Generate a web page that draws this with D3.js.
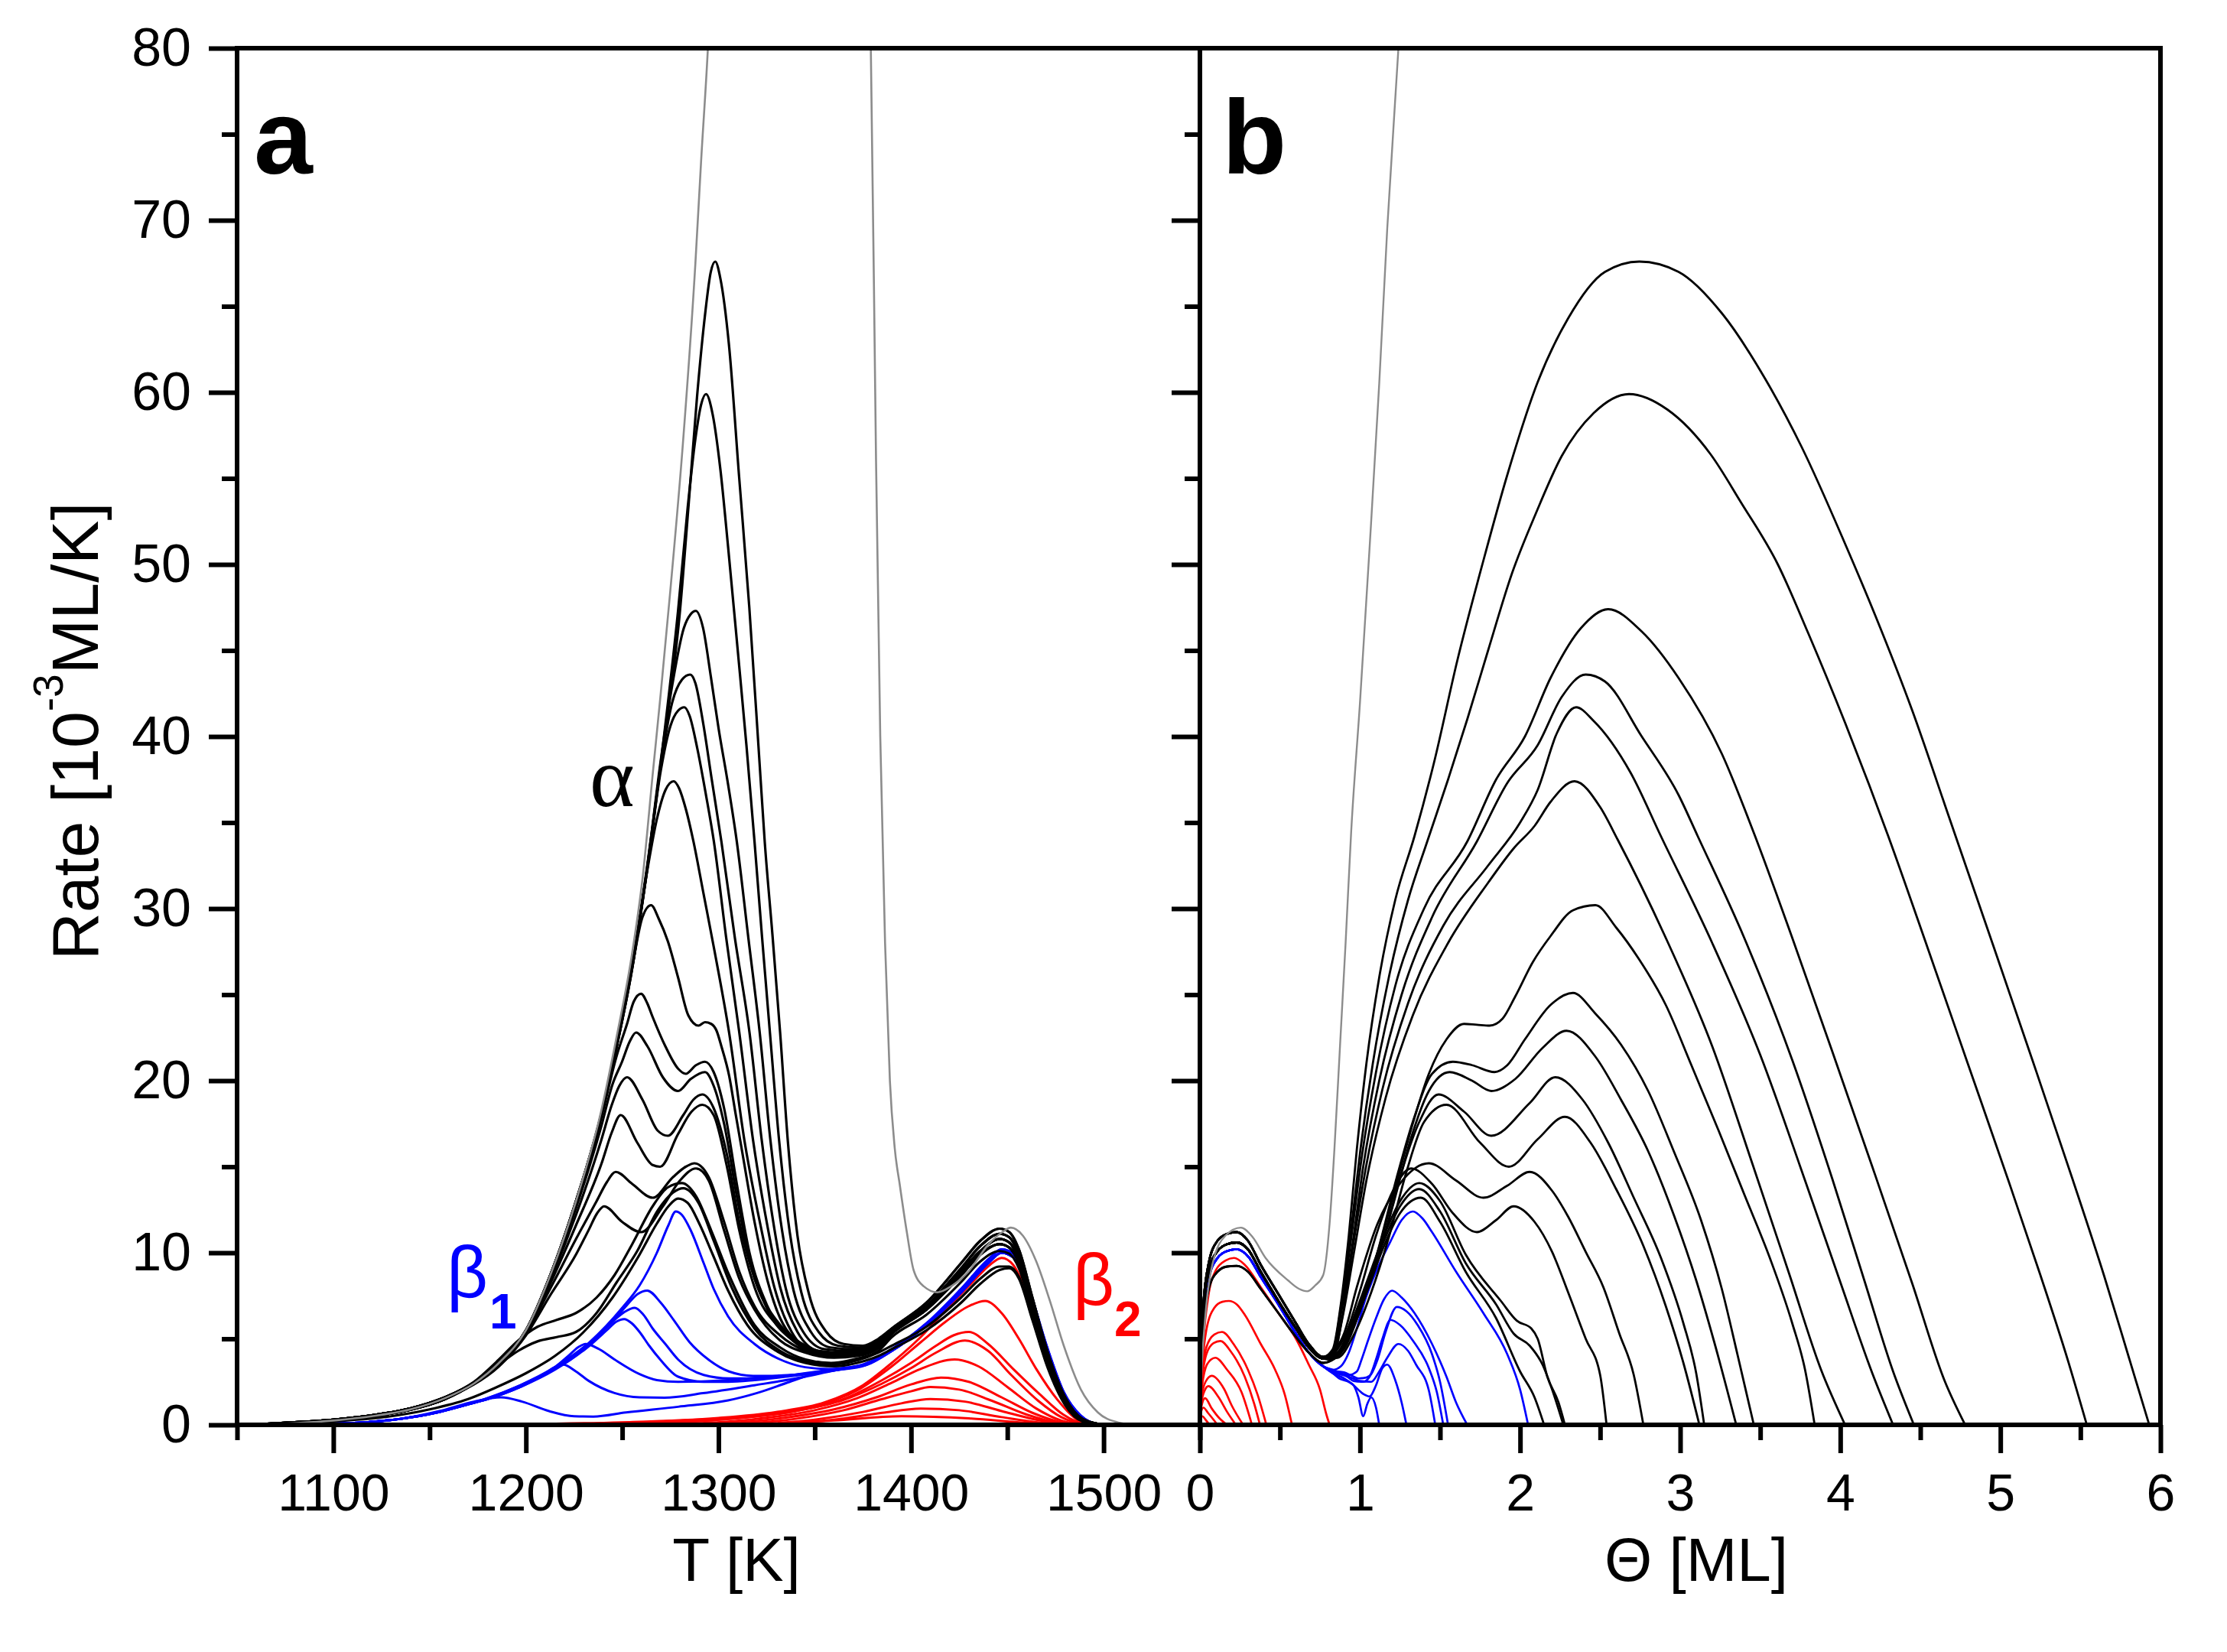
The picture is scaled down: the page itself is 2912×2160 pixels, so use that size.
<!DOCTYPE html>
<html><head><meta charset="utf-8">
<script src="https://cdn.jsdelivr.net/npm/d3@7"></script>
<style>body{margin:0;background:#fff}</style>
</head><body>
<svg id="chart" width="2912" height="2160"></svg>
<script>
// ---------------- axis / tick data ----------------
const yMajor = [0,10,20,30,40,50,60,70,80];
const yMinor = [5,15,25,35,45,55,65,75];
const tMajor = [1100,1200,1300,1400,1500];
const tMinor = [1050,1150,1250,1350,1450,1550];
const thMajor = [0,1,2,3,4,5,6];
const thMinor = [0.5,1.5,2.5,3.5,4.5,5.5];

// ---------------- panel a : rate vs T (flat [T,R,...]) ----------------
const leadA = [1055,0, 1080,0.15, 1100,0.3, 1120,0.55, 1140,0.95, 1158,1.6];
const leadB = [1058,0, 1080,0.12, 1100,0.26, 1120,0.5, 1140,0.88, 1158,1.5];
const tail1 = [1390,5.6, 1408,7.1, 1426,9.4, 1436,10.7, 1446,11.4, 1451,11.2, 1456,10.2, 1463,7.4, 1471,4.2, 1480,1.6, 1489,0.35, 1500,0];
const tail2 = [1390,5.5, 1408,6.9, 1426,9.1, 1436,10.4, 1446,11.1, 1451,10.9, 1456,9.9, 1463,7.1, 1471,4.0, 1480,1.5, 1489,0.3, 1500,0];
const tail3 = [1390,5.4, 1408,6.8, 1426,8.9, 1436,10.1, 1446,10.8, 1451,10.6, 1456,9.6, 1463,6.9, 1471,3.8, 1480,1.4, 1489,0.3, 1500,0];
const tail4 = [1390,5.3, 1408,6.7, 1426,8.7, 1436,9.9, 1446,10.5, 1451,10.3, 1456,9.4, 1463,6.7, 1471,3.7, 1480,1.35, 1489,0.28, 1500,0];
const tail5 = [1390,5.1, 1408,6.4, 1426,8.3, 1436,9.5, 1446,10.1, 1451,9.95, 1456,9.1, 1463,6.5, 1471,3.6, 1480,1.3, 1489,0.25, 1500,0];
const tail6 = [1390,4.6, 1408,5.7, 1426,7.4, 1436,8.5, 1446,9.2, 1451,9.2, 1456,8.6, 1463,6.2, 1471,3.4, 1480,1.2, 1489,0.22, 1500,0];

const aBlack = [
  leadA.concat([1173,2.45, 1186,3.6, 1200,5.5, 1213,8.8, 1226,13.0, 1239,18.0, 1247,22.0, 1255,26.6, 1263,32.5, 1272,40, 1280,47.3, 1284.5,53.5, 1288.9,59.8, 1293,64.5, 1296,67.0, 1298.3,67.6, 1301,66.6, 1305.4,62.8, 1310.7,55.1, 1316,47.5, 1321.3,38.5, 1324,33.9, 1328,28.5, 1332,22.8, 1336,16.5, 1341,11.0, 1347,7.6, 1356,5.4, 1365,4.7, 1375,4.6, 1383,5.0], tail1),
  leadB.concat([1173,2.4, 1186,3.55, 1200,5.45, 1213,8.7, 1226,12.9, 1239,17.9, 1247,21.9, 1255,26.5, 1263,32.4, 1272,40.3, 1279,47.3, 1284,53.3, 1288,57.3, 1291,59.3, 1293.5,59.9, 1297,58.7, 1301,55.5, 1305,51, 1310,45, 1314.5,39.5, 1318.7,33.9, 1322.5,28.5, 1326.7,22.8, 1331.5,16.5, 1337,11.2, 1343,7.7, 1352,5.4, 1362,4.6, 1373,4.5, 1383,4.95], tail1),
  leadA.concat([1173,2.45, 1186,3.6, 1200,5.5, 1213,8.8, 1226,13.0, 1239,18.0, 1247,22.0, 1255,26.5, 1263,32.4, 1270,38.6, 1276,43.0, 1282,46.3, 1285.5,47.1, 1288.2,47.3, 1292,46.3, 1296,43.5, 1300,40.5, 1305,37.2, 1309.5,33.9, 1315.5,28.3, 1321.4,22.8, 1327,16.5, 1333,11.3, 1339,7.8, 1348,5.4, 1358,4.5, 1370,4.4, 1383,4.9], tail2),
  leadB.concat([1173,2.4, 1186,3.55, 1200,5.45, 1213,8.7, 1226,12.9, 1239,17.9, 1247,21.9, 1255,26.4, 1263,32.3, 1270,38.3, 1276,42.0, 1281,43.3, 1285.3,43.6, 1288,43.1, 1292,40.8, 1296.5,37.5, 1301.5,33.9, 1308.5,28.3, 1316.1,22.8, 1322.5,16.5, 1329,11.4, 1335,7.9, 1344,5.4, 1355,4.4, 1368,4.3, 1383,4.85], tail2),
  leadA.concat([1173,2.45, 1186,3.6, 1200,5.5, 1213,8.8, 1226,13.0, 1239,18.0, 1247,22.0, 1255,26.5, 1263,32.3, 1270,38.0, 1275,40.6, 1279,41.5, 1282.3,41.7, 1285,41.2, 1289,39.3, 1293.5,36.6, 1297.6,33.9, 1304,28.3, 1310.8,22.8, 1318,16.5, 1325.5,11.5, 1332,8.0, 1341,5.4, 1352,4.3, 1366,4.2, 1383,4.8], tail2),
  leadB.concat([1173,2.4, 1186,3.55, 1200,5.45, 1213,8.7, 1226,12.9, 1239,17.9, 1247,21.9, 1255,26.4, 1263,32.2, 1268,35.2, 1272.5,36.9, 1276.7,37.4, 1279.5,37.0, 1283,35.8, 1287,33.9, 1292,31.0, 1298,27.5, 1305.5,22.8, 1313.5,16.5, 1322,11.5, 1329,8.0, 1338,5.4, 1350,4.2, 1364,4.1, 1383,4.75], tail3),
  leadA.concat([1173,2.45, 1186,3.6, 1200,5.5, 1213,8.8, 1226,13.0, 1239,18.0, 1247,22.0, 1255,26.5, 1260.5,29.5, 1265,30.2, 1269,29.4, 1273.7,28.1, 1279,26.0, 1284.3,23.8, 1289.6,23.2, 1293,23.4, 1296.2,23.3, 1299,22.9, 1301.5,22.0, 1305.5,20.3, 1309,18.0, 1312.1,16.0, 1318.7,11.8, 1325.4,8.4, 1332,6.2, 1345,4.6, 1358,4.2, 1370,4.3, 1383,4.75], tail3),
  leadB.concat([1173,2.4, 1186,3.55, 1200,5.45, 1213,8.8, 1226,12.9, 1239,17.8, 1247,21.4, 1252.5,23.3, 1256,24.6, 1259.8,25.05, 1263,24.5, 1265.8,23.7, 1272.4,22.0, 1279,20.7, 1283,20.4, 1288.3,20.9, 1293,21.1, 1297.5,20.5, 1302.9,18.4, 1309.5,14.0, 1316.1,10.0, 1325.4,6.9, 1338.6,4.9, 1351.8,4.2, 1366,4.15, 1383,4.7], tail3),
  leadA.concat([1173,2.45, 1186,3.55, 1200,5.4, 1213,8.7, 1226,12.6, 1239,17.3, 1245,19.8, 1249.9,21.1, 1254,22.3, 1257.2,22.8, 1263.1,22.0, 1271.1,20.2, 1279,19.4, 1285.6,20.1, 1293,20.5, 1297.5,19.7, 1302.9,17.5, 1309.5,13.3, 1316.1,9.6, 1325.4,6.7, 1338.6,4.9, 1352,4.2, 1366,4.1, 1383,4.65], tail3),
  leadB.concat([1173,2.4, 1186,3.5, 1200,5.35, 1213,8.5, 1226,12.2, 1239,16.5, 1244.6,18.6, 1248.5,19.7, 1252.5,20.2, 1260.5,18.9, 1268.4,17.1, 1273.7,16.8, 1281.7,18.0, 1287,18.9, 1291.6,19.2, 1297.5,18.4, 1304.2,15.8, 1310.8,11.8, 1318.7,8.5, 1332,5.8, 1345,4.6, 1360,4.1, 1372,4.2, 1383,4.6], tail4),
  leadA.concat([1173,2.4, 1186,3.5, 1200,5.3, 1213,8.3, 1226,11.6, 1239.3,15.2, 1244.6,17.0, 1249.2,18.0, 1257.8,16.4, 1265.8,15.1, 1269.7,15.0, 1279,16.9, 1286,18.2, 1291.6,18.6, 1297.5,18.0, 1304.2,15.1, 1310.8,11.3, 1318.7,8.0, 1332,5.6, 1345,4.5, 1360,4.0, 1372,4.1, 1383,4.55], tail4),
  leadB.concat([1173,2.4, 1186,3.5, 1200,5.3, 1213,8.0, 1226,10.8, 1236.7,13.0, 1242,14.1, 1246.6,14.7, 1255.2,14.0, 1265.8,13.2, 1276.4,14.4, 1283,15.0, 1287.6,15.2, 1294.9,14.4, 1302.9,11.8, 1310.8,8.9, 1318.7,6.9, 1332,5.2, 1345,4.3, 1360,3.95, 1372,4.05, 1383,4.5], tail4),
  leadA.concat([1173,2.35, 1186,3.4, 1200,5.2, 1213,7.6, 1226,9.9, 1232.7,11.35, 1237,12.3, 1240.6,12.7, 1249.9,11.8, 1259.8,11.2, 1271.1,12.7, 1280,14.2, 1288.3,14.9, 1294.9,14.2, 1302.9,11.3, 1310.8,8.5, 1318.7,6.7, 1332,4.9, 1345,4.2, 1360,3.9, 1372,4.0, 1383,4.45], tail4),
  leadA.concat([1173,2.5, 1186,3.8, 1196,4.9, 1206,5.7, 1216,6.1, 1226,6.5, 1236.7,7.4, 1246,8.7, 1255.2,10.5, 1265.8,12.7, 1273.7,13.8, 1281,14.05, 1288.3,13.3, 1296.2,11.3, 1305.5,8.7, 1318.7,5.8, 1332,4.5, 1345.2,3.8, 1358.5,3.6, 1372,3.85, 1383,4.3], tail5),
  leadB.concat([1173,2.4, 1186,3.5, 1196,4.3, 1206,4.85, 1216,5.1, 1226,5.4, 1236.7,6.5, 1247.2,8.3, 1257.8,10.1, 1268.4,12.45, 1276.4,13.5, 1281.7,13.75, 1289.6,12.9, 1297.5,10.7, 1306.8,8.0, 1318.7,5.6, 1332,4.3, 1345,3.7, 1358,3.5, 1372,3.75, 1383,4.2], tail6),
  [1060,0, 1100,0.2, 1130,0.5, 1150,0.9, 1170,1.5, 1185,2.2, 1200,3.0, 1215,4.0, 1230,5.4, 1245,7.4, 1258,9.7, 1268,11.7, 1274,12.7, 1279,13.15, 1284,12.9, 1290,11.7, 1297,9.9, 1305,7.8, 1315,5.8, 1330,4.3, 1345,3.6, 1360,3.4, 1372,3.6, 1383,4.0, 1390,4.4, 1408,5.5, 1426,7.1, 1436,8.2, 1446,9.0, 1451,9.1, 1456,8.5, 1463,6.1, 1471,3.3, 1480,1.15, 1489,0.2, 1500,0]
];

const blueLead = [1062,0, 1090,0.05, 1117,0.15, 1135,0.35, 1153,0.7, 1170,1.2];
const blueTail1 = [1390,4.4, 1408,5.9, 1426,7.9, 1440,9.6, 1447,10.2, 1454.5,9.8, 1461.6,7.8, 1470.4,4.6, 1479.3,1.9, 1488,0.55, 1497,0.05, 1505,0];
const blueTail2 = [1390,4.3, 1408,5.8, 1426,7.7, 1440,9.4, 1447,10.0, 1454.5,9.6, 1461.6,7.6, 1470.4,4.5, 1479.3,1.85, 1488,0.5, 1497,0.05, 1505,0];
const aBlue = [
  blueLead.concat([1180,1.55, 1197,2.3, 1215,3.35, 1233,4.8, 1250,6.8, 1259,8.1, 1268,10.0, 1274,11.6, 1277.8,12.4, 1281,12.2, 1285.6,11.3, 1292.3,9.4, 1297.5,7.9, 1305,6.3, 1318.7,4.7, 1332,3.8, 1345,3.35, 1357,3.25, 1373,3.45], blueTail1),
  blueLead.concat([1180,1.55, 1197,2.3, 1215,3.3, 1233,4.75, 1245,6.0, 1252,6.9, 1258,7.6, 1263,7.8, 1270,7.1, 1277,6.05, 1285,4.8, 1294.7,3.8, 1305.5,3.1, 1318,2.85, 1332,2.85, 1345,3.0, 1358,3.2, 1373,3.4], blueTail1),
  blueLead.concat([1180,1.5, 1197,2.25, 1215,3.25, 1233,4.7, 1245,6.0, 1251,6.55, 1256.5,6.8, 1261,6.4, 1265.8,5.6, 1272.4,4.7, 1279,3.8, 1292.3,2.9, 1305.5,2.7, 1320,2.7, 1335,2.85, 1350,3.05, 1365,3.3, 1376,3.5], blueTail2),
  blueLead.concat([1180,1.5, 1197,2.2, 1215,3.2, 1233,4.6, 1242,5.5, 1247,6.0, 1251,6.15, 1255,5.9, 1259,5.4, 1264,4.6, 1269.7,3.8, 1279,2.8, 1292.3,2.5, 1305,2.5, 1318.7,2.6, 1335,2.8, 1350,3.0, 1365,3.25, 1376,3.5], blueTail2),
  blueLead.concat([1180,1.5, 1197,2.2, 1212,3.1, 1222,4.0, 1227,4.5, 1231,4.7, 1238,4.4, 1246,3.8, 1259,2.95, 1268,2.6, 1279,2.5, 1305,2.6, 1330,2.85, 1350,3.0, 1365,3.25, 1376,3.5], blueTail2),
  blueLead.concat([1180,1.5, 1197,2.2, 1210,3.0, 1215,3.35, 1219.4,3.5, 1226,3.1, 1232.7,2.55, 1246,1.85, 1259,1.6, 1272,1.58, 1292,1.84, 1318.7,2.3, 1345,2.8, 1360,3.15, 1376,3.45], blueTail2),
  [1062,0, 1090,0.05, 1117,0.15, 1135,0.35, 1155,0.8, 1173,1.35, 1187,1.6, 1198,1.35, 1212,0.8, 1225,0.5, 1235,0.48, 1252,0.72, 1279,1.05, 1305,1.42, 1320,1.85, 1337,2.5, 1355,3.15, 1376,3.45].concat(blueTail2)
];

const aRed = [
  [1160,0, 1250,0.15, 1300,0.4, 1330,0.75, 1355,1.3, 1375,2.3, 1390,3.6, 1405,5.1, 1420,6.9, 1432,8.3, 1441,9.3, 1447,9.7, 1453,9.3, 1460,7.6, 1467,5.0, 1475,2.4, 1483,0.8, 1490,0.15, 1496,0],
  [1200,0, 1280,0.25, 1320,0.55, 1350,1.1, 1372,2.0, 1390,3.4, 1405,4.8, 1418,6.0, 1430,6.9, 1438.5,7.2, 1447,6.5, 1456,5.0, 1465,3.25, 1476,1.46, 1485,0.4, 1492,0],
  [1250,0, 1300,0.3, 1340,0.8, 1365,1.5, 1385,2.6, 1400,3.6, 1413,4.6, 1422,5.2, 1430,5.4, 1440,4.7, 1453,3.25, 1467,1.76, 1479,0.6, 1490,0.05, 1494,0],
  [1250,0, 1300,0.3, 1340,0.8, 1365,1.45, 1385,2.4, 1400,3.3, 1413,4.2, 1428,4.9, 1440,4.3, 1452,2.9, 1466,1.4, 1478,0.45, 1490,0.03, 1494,0],
  [1270,0, 1320,0.35, 1350,0.85, 1372,1.55, 1390,2.45, 1405,3.25, 1422.6,3.8, 1435,3.4, 1450,2.2, 1465,0.95, 1478,0.25, 1490,0.02, 1494,0],
  [1290,0, 1330,0.35, 1360,0.9, 1382,1.6, 1400,2.35, 1415.5,2.75, 1430,2.5, 1447,1.6, 1463,0.7, 1478,0.15, 1492,0],
  [1300,0, 1340,0.35, 1365,0.85, 1385,1.5, 1400,1.95, 1410,2.2, 1425,2.05, 1442,1.4, 1460,0.6, 1476,0.12, 1490,0],
  [1310,0, 1350,0.3, 1375,0.75, 1395,1.25, 1410,1.5, 1428,1.35, 1447,0.8, 1465,0.3, 1480,0.05, 1490,0],
  [1320,0, 1360,0.3, 1385,0.7, 1405,0.95, 1425,0.85, 1447,0.45, 1468,0.12, 1486,0],
  [1320,0, 1360,0.25, 1395,0.5, 1430,0.38, 1460,0.12, 1486,0]
];

const aGray = [1058,0, 1080,0.1, 1100,0.25, 1120,0.5, 1140,0.9, 1158,1.55, 1173,2.4, 1186,3.6, 1200,5.5, 1213,8.8, 1226,13.0, 1239,18.2, 1247,22.5, 1255,27.3, 1260.5,31.7, 1266,38, 1270,42.5, 1275,48.5, 1281.5,57, 1288,67.5, 1291,73.5, 1294.5,80, 1297,86, 1377,86, 1379.1,80, 1381.8,56.1, 1384,40, 1386.5,28, 1389,20, 1391.5,16.1, 1394.2,13.9, 1397.8,11.2, 1401.3,9.0, 1406.6,8.05, 1413.7,7.7, 1420.8,8.05, 1429.7,8.9, 1440.3,10.5, 1447.4,11.2, 1451.8,11.46, 1458,11.0, 1465,9.5, 1472,7.24, 1479.3,4.6, 1488.2,2.05, 1497,0.72, 1507.7,0.13, 1515,0];

// ---------------- panel b : rate vs coverage (flat [Theta,R,...]) ----------------
const lowA = [0,0, 0.014,5.9, 0.055,9.4, 0.11,10.7, 0.17,11.1, 0.23,11.2, 0.3,10.7, 0.38,9.3, 0.49,7.6, 0.6,5.9, 0.68,4.7, 0.77,3.95];
const lowB = [0,0, 0.014,5.6, 0.055,8.9, 0.11,10.1, 0.17,10.5, 0.23,10.6, 0.3,10.2, 0.38,8.9, 0.49,7.2, 0.6,5.6, 0.68,4.5, 0.77,3.85];
const lowC = [0,0, 0.014,5.0, 0.055,7.9, 0.11,8.9, 0.17,9.2, 0.23,9.24, 0.3,8.9, 0.38,7.9, 0.49,6.5, 0.6,5.1, 0.68,4.2, 0.77,3.6];
const bBlack = [
  lowA.concat([0.83,4.4, 0.88,7.0, 0.93,11.0, 0.98,16.0, 1.04,21.0, 1.12,26.0, 1.22,30.5, 1.34,34.2, 1.46,38.4, 1.61,44.5, 1.77,50.2, 1.92,55.2, 2.11,60.6, 2.3,64.3, 2.53,67.0, 2.745,67.6, 2.99,67.0, 3.26,64.6, 3.53,60.8, 3.76,56.8, 4.03,51.2, 4.22,47.0, 4.45,41.5, 4.68,35.3, 4.95,28.0, 5.2,21.2, 5.45,14.3, 5.65,8.6, 5.8,4.0, 5.93,0]),
  lowA.concat([0.83,4.3, 0.88,6.8, 0.94,11.0, 1.0,15.8, 1.08,21.0, 1.18,26.0, 1.3,30.5, 1.42,33.9, 1.55,37.5, 1.67,41.0, 1.8,45.0, 1.95,49.5, 2.1,53.0, 2.26,56.3, 2.46,58.8, 2.68,59.9, 2.92,59.0, 3.19,56.4, 3.38,53.6, 3.61,50.0, 3.8,46.0, 4.03,40.8, 4.18,37.2, 4.3,34.2, 4.55,27.6, 4.8,20.9, 5.05,14.2, 5.25,8.7, 5.42,3.8, 5.54,0]),
  lowA.concat([0.83,4.2, 0.88,6.6, 0.94,10.5, 1.01,15.5, 1.1,20.5, 1.22,25.5, 1.4,30.0, 1.67,33.9, 1.85,37.5, 2.03,40.0, 2.19,43.4, 2.38,46.3, 2.55,47.4, 2.76,46.1, 2.99,43.4, 3.26,39.0, 3.46,34.4, 3.7,28.3, 3.95,21.7, 4.2,15.0, 4.45,8.2, 4.65,2.6, 4.78,0]),
  lowA.concat([0.83,4.1, 0.88,6.4, 0.95,10.3, 1.02,15.0, 1.12,20.0, 1.26,25.0, 1.45,29.5, 1.73,33.9, 1.92,37.3, 2.11,39.5, 2.26,42.3, 2.41,43.6, 2.53,43.2, 2.76,40.0, 2.99,36.6, 3.11,34.2, 3.4,28.3, 3.7,21.2, 3.95,14.3, 4.15,8.4, 4.33,3.1, 4.46,0]),
  lowA.concat([0.83,4.0, 0.89,6.3, 0.95,10.0, 1.03,14.6, 1.14,19.5, 1.3,24.5, 1.52,29.0, 1.8,32.5, 2.0,35.0, 2.11,36.9, 2.23,40.2, 2.35,41.7, 2.46,40.9, 2.69,37.9, 2.88,34.2, 3.2,28.0, 3.5,21.5, 3.78,14.2, 4.0,8.3, 4.2,3.0, 4.33,0]),
  lowB.concat([0.83,3.95, 0.89,6.2, 0.96,9.9, 1.04,14.2, 1.16,19.0, 1.33,23.8, 1.55,28.0, 1.8,31.5, 1.96,33.5, 2.09,34.8, 2.19,36.2, 2.34,37.4, 2.5,35.9, 2.61,34.0, 2.9,28.5, 3.2,22.0, 3.45,15.2, 3.68,8.8, 3.88,3.2, 4.03,0]),
  lowB.concat([0.82,3.9, 0.88,4.4, 0.99,6.4, 1.1,9.7, 1.21,13.4, 1.32,17.2, 1.43,20.4, 1.54,22.4, 1.65,23.3, 1.73,23.25, 1.81,23.2, 1.89,23.6, 1.97,24.9, 2.08,26.9, 2.19,28.4, 2.33,29.9, 2.47,30.2, 2.6,28.9, 2.74,27.1, 2.91,24.4, 3.07,20.9, 3.24,17.1, 3.4,13.4, 3.56,9.7, 3.7,5.9, 3.78,3.2, 3.84,0]),
  lowB.concat([0.82,3.8, 0.9,4.4, 1.01,6.9, 1.12,10.4, 1.23,14.4, 1.34,17.9, 1.45,20.4, 1.58,21.1, 1.7,20.9, 1.84,20.5, 1.92,20.9, 2.03,22.4, 2.19,24.4, 2.33,25.1, 2.47,23.9, 2.63,22.1, 2.8,19.4, 2.96,15.9, 3.13,11.9, 3.26,7.9, 3.36,4.0, 3.46,0]),
  lowB.concat([0.82,3.8, 0.88,4.2, 0.99,6.4, 1.1,9.4, 1.21,12.9, 1.32,16.7, 1.43,19.4, 1.56,20.5, 1.7,20.0, 1.82,19.4, 1.97,20.1, 2.14,21.9, 2.29,22.9, 2.47,21.4, 2.63,18.9, 2.8,15.9, 2.96,12.2, 3.1,8.4, 3.21,4.9, 3.35,0]),
  lowB.concat([0.85,4.1, 0.93,5.2, 1.04,7.7, 1.15,10.9, 1.26,14.7, 1.37,17.6, 1.49,19.2, 1.65,18.2, 1.82,16.8, 2.06,18.7, 2.22,20.2, 2.39,18.9, 2.55,16.4, 2.71,13.2, 2.88,9.7, 3.02,5.9, 3.1,3.0, 3.15,0]),
  lowB.concat([0.86,3.9, 0.96,5.2, 1.07,7.7, 1.18,10.9, 1.29,14.7, 1.4,17.6, 1.54,18.6, 1.75,16.4, 1.93,15.0, 2.11,16.6, 2.28,17.9, 2.44,16.4, 2.6,13.7, 2.77,10.4, 2.91,6.9, 3.02,3.6, 3.12,0]),
  lowB.concat([0.81,4.1, 0.9,5.3, 0.98,8.0, 1.11,11.7, 1.24,13.9, 1.43,15.2, 1.6,14.2, 1.77,13.2, 1.92,13.9, 2.06,14.7, 2.2,13.6, 2.3,12.1, 2.41,10.05, 2.52,8.0, 2.62,5.3, 2.71,2.9, 2.77,0]),
  lowB.concat([0.82,4.0, 0.92,5.5, 1.0,7.8, 1.1,11.0, 1.2,13.5, 1.32,14.9, 1.45,14.0, 1.58,12.3, 1.73,11.2, 1.85,11.9, 1.96,12.7, 2.09,11.8, 2.2,10.05, 2.3,7.7, 2.41,5.0, 2.5,2.9, 2.54,0]),
  lowB.concat([0.86,4.2, 0.95,6.0, 1.05,8.5, 1.15,11.0, 1.25,13.0, 1.37,14.05, 1.5,13.0, 1.66,9.9, 1.88,7.2, 1.98,6.05, 2.07,5.6, 2.11,5.0, 2.17,2.8, 2.24,1.3, 2.28,0]),
  lowC.concat([0.86,4.1, 0.95,5.8, 1.05,8.2, 1.15,10.7, 1.25,12.7, 1.37,13.7, 1.5,12.4, 1.66,9.4, 1.85,7.0, 1.96,5.3, 2.06,4.6, 2.14,3.5, 2.2,2.05, 2.27,0]),
  lowC.concat([0.86,4.0, 0.95,5.6, 1.05,7.9, 1.15,10.4, 1.25,12.3, 1.38,13.2, 1.5,11.8, 1.66,8.9, 1.85,6.2, 2.0,3.1, 2.09,1.6, 2.15,0])
];

const blueLow = [0,0, 0.014,5.2, 0.055,8.5, 0.11,9.7, 0.17,10.1, 0.23,10.2, 0.3,9.8, 0.38,8.6, 0.49,7.0, 0.6,5.3, 0.68,4.2, 0.77,3.4];
const bBlue = [
  blueLow.concat([0.83,3.2, 0.88,3.4, 0.93,4.2, 0.98,5.6, 1.03,7.2, 1.1,8.9, 1.19,10.65, 1.26,11.9, 1.33,12.4, 1.39,12.0, 1.45,11.2, 1.6,8.9, 1.77,6.5, 1.92,4.1, 2.0,2.05, 2.05,0]),
  blueLow.concat([0.83,3.2, 0.88,3.0, 0.93,2.9, 0.98,3.1, 1.01,3.8, 1.05,4.9, 1.1,6.2, 1.15,7.3, 1.2,7.8, 1.26,7.4, 1.34,6.5, 1.45,4.7, 1.54,2.8, 1.6,1.3, 1.67,0]),
  blueLow.concat([0.83,3.15, 0.9,3.05, 0.95,2.85, 0.99,2.7, 1.04,2.75, 1.07,2.95, 1.11,3.8, 1.16,5.4, 1.23,6.85, 1.29,6.6, 1.36,5.8, 1.45,4.1, 1.5,2.5, 1.55,0]),
  blueLow.concat([0.83,3.1, 0.87,3.0, 0.92,2.8, 0.96,2.55, 1.02,2.5, 1.06,2.8, 1.1,3.8, 1.14,5.0, 1.19,6.1, 1.25,5.8, 1.33,4.9, 1.43,3.3, 1.48,1.9, 1.52,0]),
  blueLow.concat([0.83,3.05, 0.87,2.95, 0.93,2.8, 1.0,2.55, 1.07,2.5, 1.12,3.1, 1.17,3.9, 1.24,4.7, 1.3,4.3, 1.35,3.5, 1.43,2.0, 1.47,0]),
  blueLow.concat([0.83,3.0, 0.9,2.7, 0.96,2.3, 1.02,1.8, 1.06,1.65, 1.1,2.3, 1.14,3.3, 1.17,3.5, 1.22,2.6, 1.26,1.3, 1.29,0]),
  blueLow.concat([0.83,3.0, 0.87,2.7, 0.93,2.5, 0.96,2.3, 0.99,1.6, 1.02,0.5, 1.045,1.2, 1.07,1.6, 1.1,1.0, 1.12,0])
];

const bRed = [
  [0,0, 0.01,3.0, 0.05,7.3, 0.1,9.0, 0.16,9.55, 0.213,9.7, 0.28,9.3, 0.38,8.0, 0.49,6.5, 0.6,5.0, 0.68,3.5, 0.75,2.05, 0.79,0.6, 0.81,0],
  [0,0, 0.01,2.6, 0.04,5.5, 0.09,6.8, 0.14,7.15, 0.181,7.2, 0.23,7.0, 0.28,6.4, 0.38,4.7, 0.47,3.2, 0.53,1.76, 0.575,0],
  [0,0, 0.01,2.3, 0.04,4.5, 0.09,5.25, 0.138,5.4, 0.21,4.7, 0.3,3.2, 0.36,1.76, 0.415,0],
  [0,0, 0.01,2.2, 0.04,4.1, 0.085,4.75, 0.128,4.87, 0.19,4.3, 0.28,2.8, 0.34,1.2, 0.375,0],
  [0,0, 0.01,1.9, 0.035,3.3, 0.07,3.8, 0.096,3.9, 0.17,3.2, 0.26,1.9, 0.325,0],
  [0,0, 0.01,1.6, 0.035,2.5, 0.074,2.85, 0.15,2.1, 0.2,1.1, 0.27,0],
  [0,0, 0.01,1.3, 0.03,2.0, 0.053,2.25, 0.117,1.6, 0.17,0.75, 0.225,0],
  [0,0, 0.008,1.0, 0.032,1.55, 0.074,0.95, 0.12,0.4, 0.17,0],
  [0,0, 0.006,0.7, 0.022,1.0, 0.05,0.7, 0.085,0.3, 0.11,0],
  [0,0, 0.005,0.35, 0.015,0.5, 0.035,0.3, 0.06,0]
];

const bGray = [0,0, 0.01,3.0, 0.03,5.9, 0.08,9.4, 0.16,11.0, 0.256,11.46, 0.33,10.9, 0.41,9.7, 0.55,8.4, 0.62,7.9, 0.67,7.76, 0.72,8.1, 0.77,8.7, 0.81,11.7, 0.84,16.0, 0.875,22.0, 0.91,28.0, 0.945,34.5, 1.0,42.0, 1.06,51.0, 1.12,60.5, 1.17,69.5, 1.24,80, 1.3,90];

// ---------------- drawing ----------------
const L = 310, M = 1569, R = 2825, T = 63, B = 1863;
const xA = d3.scaleLinear().domain([1050,1550]).range([L, M]);
const xB = d3.scaleLinear().domain([0,6]).range([M, R]);
const y = d3.scaleLinear().domain([0,80]).range([B, T]);
const FONT = "'Liberation Sans', Arial, Helvetica, sans-serif";

const svg = d3.select('#chart');
svg.append('rect').attr('width',2912).attr('height',2160).attr('fill','#fff');

const defs = svg.append('defs');
defs.append('clipPath').attr('id','clipA').append('rect').attr('x',L).attr('y',T).attr('width',M-L).attr('height',B-T);
defs.append('clipPath').attr('id','clipB').append('rect').attr('x',M).attr('y',T).attr('width',R-M).attr('height',B-T);

function pairs(flat){ const out=[]; for(let i=0;i<flat.length;i+=2) out.push([flat[i],flat[i+1]]); return out; }

function drawSet(g, xs, sets, color, width){
  const line = d3.line().x(d=>xs(d[0])).y(d=>y(d[1])).curve(d3.curveMonotoneX);
  g.selectAll(null).data(sets).enter().append('path')
    .attr('d', d=>line(pairs(d)))
    .attr('fill','none').attr('stroke',color).attr('stroke-width',width)
    .attr('stroke-linejoin','round').attr('stroke-linecap','round');
}

const gA = svg.append('g').attr('clip-path','url(#clipA)');
drawSet(gA, xA, aRed, '#ff0000', 3);
drawSet(gA, xA, aBlue, '#0000ff', 3);
drawSet(gA, xA, aBlack, '#000000', 3.2);
drawSet(gA, xA, [aGray], '#8c8c8c', 2.6);

const gB = svg.append('g').attr('clip-path','url(#clipB)');
drawSet(gB, xB, bRed, '#ff0000', 2.7);
drawSet(gB, xB, bBlue, '#0000ff', 2.7);
drawSet(gB, xB, bBlack, '#000000', 2.8);
drawSet(gB, xB, [bGray], '#8c8c8c', 2.4);

// axes
function styleAxis(g, fs){
  g.select('.domain').remove();
  g.selectAll('.tick line').attr('stroke','#000').attr('stroke-width',6);
  g.selectAll('.tick text').attr('font-family',FONT).attr('font-size',fs).attr('fill','#000');
}
const axA1 = svg.append('g').attr('transform',`translate(0,${B})`)
  .call(d3.axisBottom(xA).tickValues(tMinor).tickSize(20).tickFormat(''));
styleAxis(axA1, 0);
const axA2 = svg.append('g').attr('transform',`translate(0,${B})`)
  .call(d3.axisBottom(xA).tickValues(tMajor).tickSize(37).tickPadding(27).tickFormat(d3.format('d')));
styleAxis(axA2, 68);
const axB1 = svg.append('g').attr('transform',`translate(0,${B})`)
  .call(d3.axisBottom(xB).tickValues(thMinor).tickSize(20).tickFormat(''));
styleAxis(axB1, 0);
const axB2 = svg.append('g').attr('transform',`translate(0,${B})`)
  .call(d3.axisBottom(xB).tickValues(thMajor).tickSize(37).tickPadding(27).tickFormat(d3.format('d')));
styleAxis(axB2, 68);
const ayL1 = svg.append('g').attr('transform',`translate(${L},0)`)
  .call(d3.axisLeft(y).tickValues(yMinor).tickSize(20).tickFormat(''));
styleAxis(ayL1, 0);
const ayL2 = svg.append('g').attr('transform',`translate(${L},0)`)
  .call(d3.axisLeft(y).tickValues(yMajor).tickSize(37).tickPadding(23).tickFormat(d3.format('d')));
styleAxis(ayL2, 70);
const ayM1 = svg.append('g').attr('transform',`translate(${M},0)`)
  .call(d3.axisLeft(y).tickValues(yMinor).tickSize(20).tickFormat(''));
styleAxis(ayM1, 0);
const ayM2 = svg.append('g').attr('transform',`translate(${M},0)`)
  .call(d3.axisLeft(y).tickValues(yMajor.filter(v=>v>0 && v<80)).tickSize(37).tickFormat(''));
styleAxis(ayM2, 0);

// frame
const frame = svg.append('g').attr('stroke','#000').attr('stroke-width',6).attr('stroke-linecap','square');
frame.append('line').attr('x1',L).attr('x2',R).attr('y1',y(80)).attr('y2',y(80));
frame.append('line').attr('x1',L).attr('x2',R).attr('y1',y(0)).attr('y2',y(0));
frame.append('line').attr('x1',L).attr('x2',L).attr('y1',y(80)).attr('y2',y(0));
frame.append('line').attr('x1',M).attr('x2',M).attr('y1',y(80)).attr('y2',y(0));
frame.append('line').attr('x1',R).attr('x2',R).attr('y1',y(80)).attr('y2',y(0));

// titles
svg.append('text').attr('x',963).attr('y',2067).attr('text-anchor','middle')
  .attr('font-family',FONT).attr('font-size',80).text('T [K]');
svg.append('text').attr('x',2218).attr('y',2067).attr('text-anchor','middle')
  .attr('font-family',FONT).attr('font-size',80).text('\u0398 [ML]');
const yt = svg.append('text').attr('transform','translate(128,956) rotate(-90)').attr('text-anchor','middle')
  .attr('font-family',FONT).attr('font-size',86);
yt.append('tspan').text('Rate [10');
yt.append('tspan').attr('font-size',55).attr('dy',-46).text('-3');
yt.append('tspan').attr('dy',46).text('ML/K]');

// panel letters
svg.append('text').attr('x',332).attr('y',227).attr('font-family',FONT).attr('font-weight','bold').attr('font-size',138).text('a');
svg.append('text').attr('x',1598).attr('y',227).attr('font-family',FONT).attr('font-weight','bold').attr('font-size',138).text('b');

// peak labels
svg.append('text').attr('x',771).attr('y',1054).attr('font-family',"'Liberation Serif', 'Times New Roman', serif").attr('font-size',112).text('\u03B1');
const b1 = svg.append('g').attr('fill','#0000ff').attr('font-family',FONT);
b1.append('text').attr('x',584).attr('y',1696).attr('font-size',94).text('\u03B2');
b1.append('text').attr('x',640).attr('y',1737).attr('font-size',64).attr('font-weight','bold').text('1');
const b2 = svg.append('g').attr('fill','#ff0000').attr('font-family',FONT);
b2.append('text').attr('x',1403).attr('y',1706).attr('font-size',94).text('\u03B2');
b2.append('text').attr('x',1457).attr('y',1747).attr('font-size',64).attr('font-weight','bold').text('2');
</script>
</body></html>
